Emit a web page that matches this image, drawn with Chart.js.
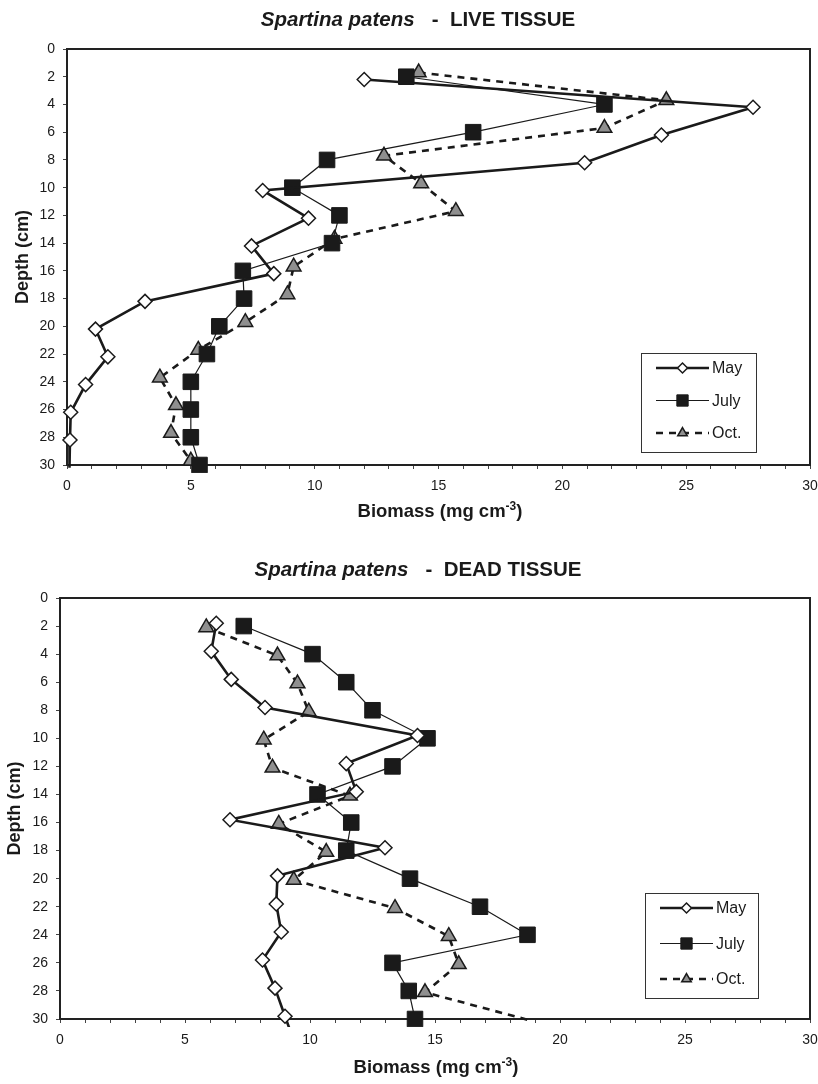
<!DOCTYPE html>
<html>
<head>
<meta charset="utf-8">
<script src="https://cdn.jsdelivr.net/npm/chart.js@4.4.1/dist/chart.umd.min.js"></script>
<style>
  body { margin: 0; background: #fff; overflow: hidden; }
  #page { position: relative; width: 818px; height: 1084px; overflow: hidden; font-family: "Liberation Sans", Arial, sans-serif; color: #1a1a1a; }
  .box { position: absolute; left: 0; width: 818px; overflow: hidden; }
  .box canvas { display: block; }
  .ttl { position: absolute; left: 0; width: 836px; text-align: center; font-weight: bold; font-size: 20.5px; line-height: 20px; white-space: pre; }
  .xt { position: absolute; width: 400px; text-align: center; font-weight: bold; font-size: 18.5px; line-height: 18px; }
  .xt sup { font-size: 12px; vertical-align: 7px; line-height: 0; }
</style>
</head>
<body>
<div id="page">
  <div class="box" style="top:0;height:530px"><canvas id="live" width="822" height="530"></canvas></div>
  <div class="ttl" style="top:9px"><i>Spartina patens</i>   -  LIVE TISSUE</div>
  <div class="xt" style="top:502px;left:240px">Biomass (mg cm<sup>-3</sup>)</div>

  <div class="box" style="top:530px;height:554px"><canvas id="dead" width="822" height="554"></canvas></div>
  <div class="ttl" style="top:559px"><i>Spartina patens</i>   -  DEAD TISSUE</div>
  <div class="xt" style="top:1058px;left:236px">Biomass (mg cm<sup>-3</sup>)</div>
</div>
<script>
// tick labels
const depthTicks = [0, 2, 4, 6, 8, 10, 12, 14, 16, 18, 20, 22, 24, 26, 28, 30];
const biomassTicks = [0, 5, 10, 15, 20, 25, 30];
const seriesNames = ['May', 'July', 'Oct.'];

// LIVE TISSUE  (depth in cm, biomass in mg cm-3)
const liveMayDepth  = [2.2, 4.2, 6.2, 8.2, 10.2, 12.2, 14.2, 16.2, 18.2, 20.2, 22.2, 24.2, 26.2, 28.2, 30.2];
const liveMay       = [12.0, 27.7, 24.0, 20.9, 7.9, 9.75, 7.45, 8.35, 3.15, 1.15, 1.65, 0.75, 0.15, 0.12, 0.1];
const liveJulyDepth = [2, 4, 6, 8, 10, 12, 14, 16, 18, 20, 22, 24, 26, 28, 30];
const liveJuly      = [13.7, 21.7, 16.4, 10.5, 9.1, 11.0, 10.7, 7.1, 7.15, 6.15, 5.65, 5.0, 5.0, 5.0, 5.35];
const liveOctDepth  = [1.7, 3.7, 5.7, 7.7, 9.7, 11.7, 13.7, 15.7, 17.7, 19.7, 21.7, 23.7, 25.7, 27.7, 29.7];
const liveOct       = [14.2, 24.2, 21.7, 12.8, 14.3, 15.7, 10.8, 9.15, 8.9, 7.2, 5.3, 3.75, 4.4, 4.2, 5.0];

// DEAD TISSUE
const deadMayDepth  = [1.8, 3.8, 5.8, 7.8, 9.8, 11.8, 13.8, 15.8, 17.8, 19.8, 21.8, 23.8, 25.8, 27.8, 29.8, 31.8];
const deadMay       = [6.25, 6.05, 6.85, 8.2, 14.3, 11.45, 11.85, 6.8, 13.0, 8.7, 8.65, 8.85, 8.1, 8.6, 9.0, 9.4];
const deadJulyDepth = [2, 4, 6, 8, 10, 12, 14, 16, 18, 20, 22, 24, 26, 28, 30];
const deadJuly      = [7.35, 10.1, 11.45, 12.5, 14.7, 13.3, 10.3, 11.65, 11.45, 14.0, 16.8, 18.7, 13.3, 13.95, 14.2];
const deadOctDepth  = [2.1, 4.1, 6.1, 8.1, 10.1, 12.1, 14.1, 16.1, 18.1, 20.1, 22.1, 24.1, 26.1, 28.1, 30.1];
const deadOct       = [5.85, 8.7, 9.5, 9.95, 8.15, 8.5, 11.6, 8.75, 10.65, 9.35, 13.4, 15.55, 15.95, 14.6, 18.8];

const INK = '#1a1a1a';
Chart.defaults.font.family = '"Liberation Sans", Arial, sans-serif';
Chart.defaults.color = INK;

function pts(depths, vals) {
  return vals.map((v, i) => ({ x: v, y: depths[i] }));
}
// markers below the 30 cm line are not drawn, only the line running off
const belowAxis = c => c.raw && c.raw.y > 30;

function series(name, depths, vals, style) {
  return Object.assign({
    label: name,
    data: pts(depths, vals),
    showLine: true,
    tension: 0,
    borderColor: INK,
    pointBorderColor: INK,
    clip: 8
  }, style, {
    pointRadius: c => (belowAxis(c) ? 0 : style.pointRadius)
  });
}

function makeSets(may, july, oct) {
  return [
    series(seriesNames[0], may[0], may[1], {
      borderWidth: 2.6, pointStyle: 'rectRot', pointRadius: 7, legendRadius: 5,
      pointBackgroundColor: '#fff', pointBorderWidth: 1.5
    }),
    series(seriesNames[1], july[0], july[1], {
      borderWidth: 1.2, pointStyle: 'rect', pointRadius: 11, legendRadius: 8,
      pointBackgroundColor: INK, pointBorderWidth: 1
    }),
    series(seriesNames[2], oct[0], oct[1], {
      borderWidth: 2.6, borderDash: [7, 6], pointStyle: 'triangle', pointRadius: 8.5, legendRadius: 5.5,
      pointBackgroundColor: '#8f8f8f', pointBorderWidth: 1.5
    })
  ];
}

const frame = {
  id: 'frame',
  beforeDatasetsDraw(chart) {
    const a = chart.chartArea, ctx = chart.ctx;
    ctx.save();
    ctx.lineWidth = 2;
    ctx.strokeStyle = '#222';
    ctx.strokeRect(a.left, a.top, a.right - a.left, a.bottom - a.top);
    ctx.restore();
  }
};

const boxLegend = {
  id: 'boxLegend',
  afterDraw(chart, args, o) {
    const { ctx, chartArea: a } = chart;
    const x0 = Math.round(a.right - o.right - o.width), y0 = Math.round(a.bottom - o.bottom - o.height);
    ctx.save();
    ctx.lineWidth = 1;
    ctx.strokeStyle = '#333';
    ctx.strokeRect(x0 + 0.5, y0 + 0.5, o.width, o.height);
    chart.data.datasets.forEach((ds, i) => {
      const y = y0 + o.first + i * o.gap;
      ctx.setLineDash(ds.borderDash || []);
      ctx.lineWidth = ds.borderWidth;
      ctx.strokeStyle = ds.borderColor;
      ctx.beginPath();
      ctx.moveTo(x0 + 15, y);
      ctx.lineTo(x0 + 68, y);
      ctx.stroke();
      ctx.setLineDash([]);
      ctx.fillStyle = ds.pointBackgroundColor;
      ctx.strokeStyle = ds.pointBorderColor;
      ctx.lineWidth = ds.pointBorderWidth;
      Chart.helpers.drawPoint(ctx, {
        pointStyle: ds.pointStyle, radius: ds.legendRadius,
        borderWidth: ds.pointBorderWidth, rotation: 0
      }, x0 + 41.5, y);
      ctx.fillStyle = INK;
      ctx.font = '16px "Liberation Sans", Arial, sans-serif';
      ctx.textBaseline = 'middle';
      ctx.textAlign = 'left';
      ctx.fillText(ds.label, x0 + 71, y + 1);
    });
    ctx.restore();
  }
};

function makeChart(id, datasets, lay) {
  return new Chart(document.getElementById(id), {
    type: 'scatter',
    data: { datasets },
    options: {
      responsive: false,
      animation: false,
      devicePixelRatio: 1,
      layout: { padding: { top: lay.top, right: lay.right, left: 0, bottom: 0 } },
      plugins: {
        legend: { display: false },
        tooltip: { enabled: false },
        boxLegend: lay.legend
      },
      scales: {
        x: {
          type: 'linear', position: 'bottom', min: 0, max: 30,
          afterFit: s => {
            s.height = lay.xHeight;
            s.paddingLeft = 0;
            s.paddingRight = 0;
          },
          ticks: {
            stepSize: 1, autoSkip: false, maxRotation: 0, padding: 9,
            font: { size: 14 },
            callback: v => (biomassTicks.includes(v) ? String(v) : '')
          },
          grid: { drawOnChartArea: false, tickLength: 4, color: '#444', lineWidth: 1 },
          border: { color: '#222', width: 2 }
        },
        y: {
          type: 'linear', position: 'left', min: 0, max: 30, reverse: true,
          afterFit: s => { s.width = lay.yWidth; },
          afterBuildTicks: s => { s.ticks = depthTicks.map(v => ({ value: v })); },
          ticks: { padding: lay.yPad, font: { size: 14 } },
          grid: { drawOnChartArea: false, tickLength: 4, color: '#444', lineWidth: 1 },
          border: { color: '#222', width: 2 },
          title: {
            display: true, text: 'Depth (cm)',
            font: { size: 18, weight: 'bold' },
            padding: { top: lay.yTitlePad, bottom: 0 }
          }
        }
      }
    },
    plugins: [frame, boxLegend]
  });
}

makeChart('live',
  makeSets([liveMayDepth, liveMay], [liveJulyDepth, liveJuly], [liveOctDepth, liveOct]),
  { top: 49, right: 4, xHeight: 65, yWidth: 67, yPad: 8, yTitlePad: 12,
    legend: { right: 54, bottom: 13, width: 115, height: 99, first: 15, gap: 32.5 } });

makeChart('dead',
  makeSets([deadMayDepth, deadMay], [deadJulyDepth, deadJuly], [deadOctDepth, deadOct]),
  { top: 68, right: 3, xHeight: 65, yWidth: 60, yPad: 8, yTitlePad: 4,
    legend: { right: 52, bottom: 21, width: 113, height: 105, first: 15, gap: 35.5 } });
</script>
</body>
</html>
